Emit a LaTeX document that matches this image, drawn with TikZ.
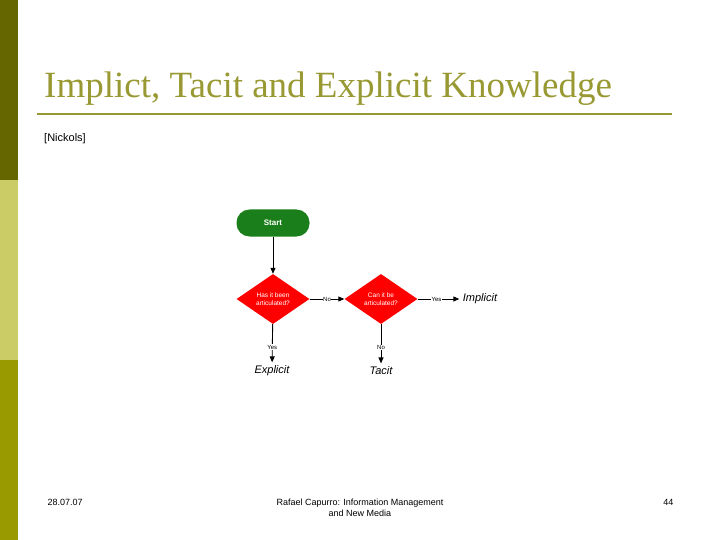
\documentclass[tikz,border=0pt]{standalone}
\usepackage{fontspec}
\setmainfont{Liberation Serif}
\setsansfont{Liberation Sans}
\usetikzlibrary{shapes.geometric,arrows.meta}
\definecolor{olivetitle}{HTML}{999933}
\definecolor{bardark}{HTML}{666600}
\definecolor{barlight}{HTML}{CCCC66}
\definecolor{barmid}{HTML}{999900}
\definecolor{startgreen}{HTML}{1A7F1A}
\begin{document}
\begin{tikzpicture}[x=1pt,y=-1pt,
  dia/.style={diamond,fill=red,draw=none,minimum width=73pt,minimum height=50pt,inner sep=0pt,align=center,text=white,font=\sffamily\fontsize{6.5}{7.5}\selectfont},
  lbl/.style={font=\sffamily\fontsize{6}{7}\selectfont,fill=white,inner sep=0.5pt},
  res/.style={font=\sffamily\itshape\fontsize{11}{12}\selectfont},
  arr/.style={-{Triangle[length=6pt,width=5pt]},line width=0.9pt},
  foot/.style={font=\sffamily\fontsize{9}{11}\selectfont,align=center}]
\useasboundingbox (0,0) rectangle (720,540);
\fill[white] (0,0) rectangle (720,540);
\fill[bardark] (0,0) rectangle (18,180);
\fill[barlight] (0,180) rectangle (18,360);
\fill[barmid] (0,360) rectangle (18,540);
\node[anchor=base west,inner sep=0,text=olivetitle,font=\fontsize{37}{40}\selectfont] (title) at (44,98) {Implict, Tacit and Explicit Knowledge};
\draw[olivetitle,line width=2pt] (37,114) -- (672,114);
\node[anchor=west,inner sep=0,font=\sffamily\fontsize{11}{13}\selectfont] (src) at (44,139) {[Nickols]};
\node[rounded corners=13pt,fill=startgreen,minimum width=73pt,minimum height=27pt,text=white,font=\sffamily\bfseries\fontsize{8}{9}\selectfont] (start) at (273,223) {Start};
\node[dia] (d1) at (273,299) {Has it been\\articulated?};
\node[dia] (d2) at (381,299) {Can it be\\articulated?};
\node[res] (imp) at (480,299) {Implicit};
\node[res] (exp) at (272,371) {Explicit};
\node[res] (tac) at (381,371) {Tacit};
\draw[arr] (start) -- (d1);
\draw[arr] (d1) -- node[lbl]{No} (d2);
\draw[arr] (d2) -- node[lbl,pos=0.45]{Yes} (imp);
\draw[arr] (d1) -- node[lbl,pos=0.6]{Yes} (exp);
\draw[arr] (d2) -- node[lbl,pos=0.6]{No} (tac);
\node[foot,anchor=west] (date) at (44,502) {28.07.07};
\node[foot] (auth) at (360,508) {Rafael Capurro: Information Management\\and New Media};
\node[foot,anchor=east] (pg) at (677,502) {44};
\end{tikzpicture}
\end{document}
